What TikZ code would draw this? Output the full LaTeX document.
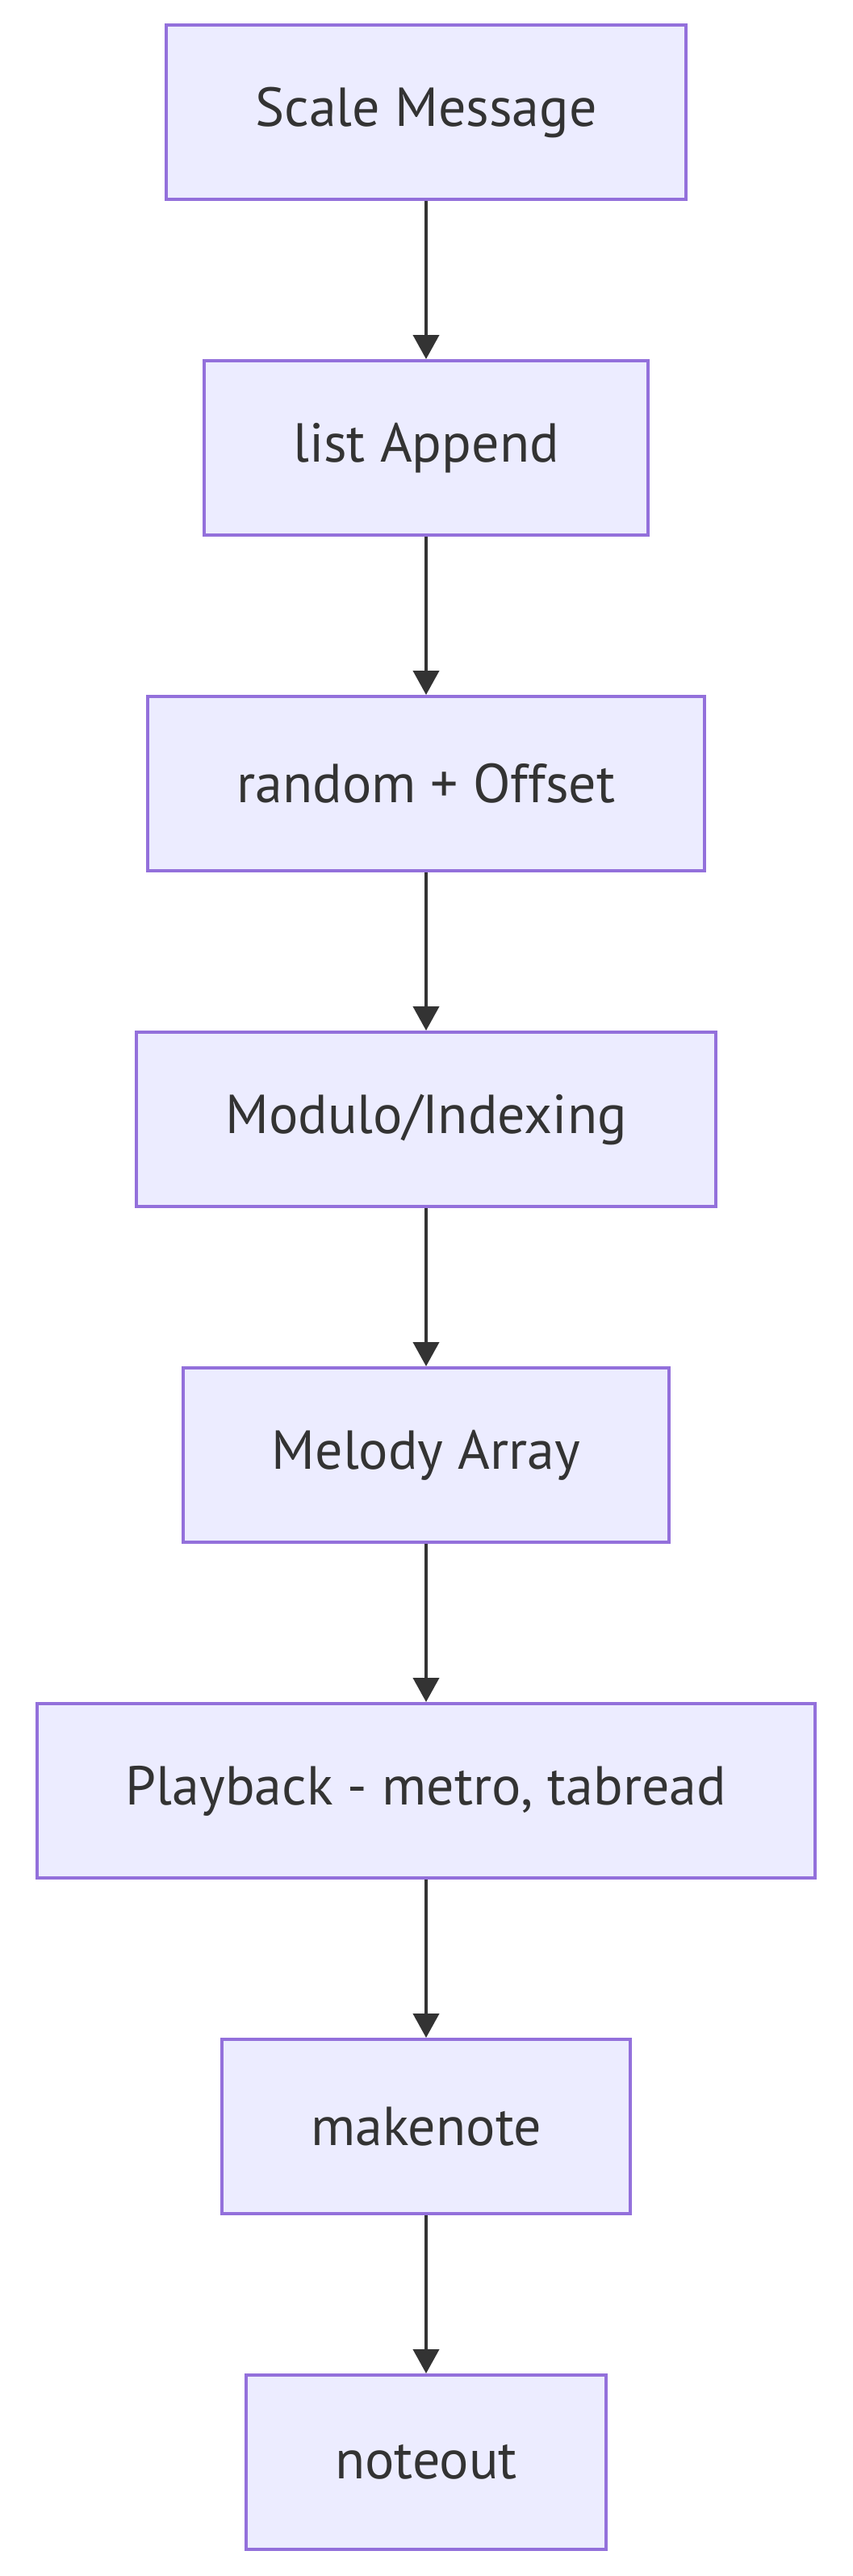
\documentclass[tikz,border=0pt]{standalone}
\usepackage{fontspec}
\setmainfont{PT Sans}
\usetikzlibrary{arrows.meta,positioning}
\definecolor{boxfill}{HTML}{ECECFF}
\definecolor{boxline}{HTML}{9370DB}
\definecolor{ink}{HTML}{333333}
\begin{document}
\begin{tikzpicture}[->, >={Triangle[width=16pt,length=15pt]}, ink, line width=2pt, node distance=208pt, stage/.style={rectangle, draw=boxline, fill=boxfill, line width=2pt, text=ink, font=\fontsize{34}{40}\selectfont, minimum height=108pt, inner xsep=55pt}]
\useasboundingbox (0,0) rectangle (528pt,-1596pt);
\node[stage] (scale) at (264pt,-69.5pt) {Scale Message};
\node[stage] (append) [below of=scale] {list Append};
\node[stage] (offset) [below of=append] {random + Offset};
\node[stage] (modulo) [below of=offset] {Modulo/Indexing};
\node[stage] (melody) [below of=modulo] {Melody Array};
\node[stage] (playback) [below of=melody] {Playback - metro, tabread};
\node[stage] (makenote) [below of=playback] {makenote};
\node[stage] (noteout) [below of=makenote] {noteout};

\path
(scale) edge (append)
(append) edge (offset)
(offset) edge (modulo)
(modulo) edge (melody)
(melody) edge (playback)
(playback) edge (makenote)
(makenote) edge (noteout);
\end{tikzpicture}
\end{document}
